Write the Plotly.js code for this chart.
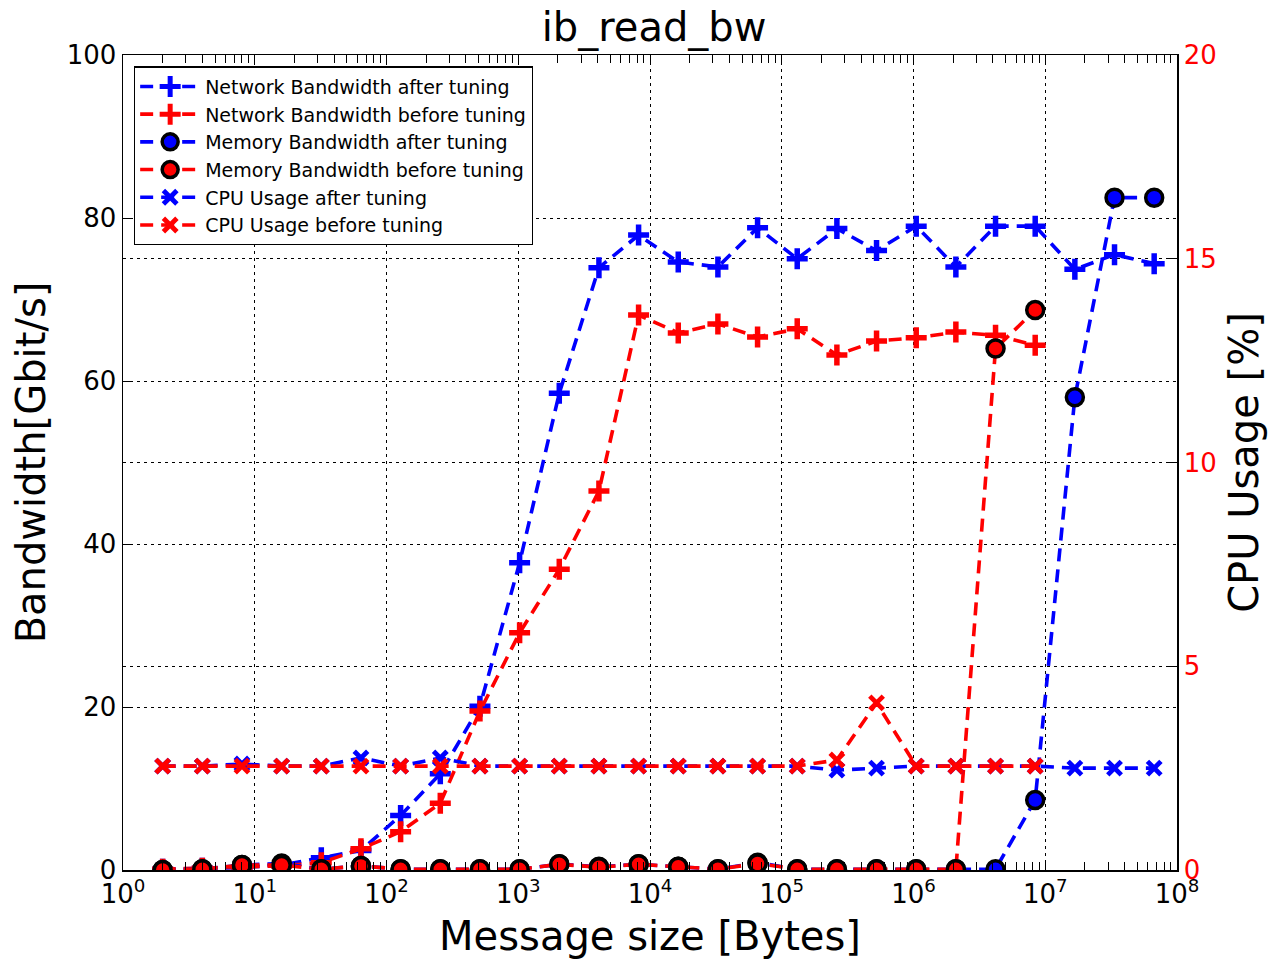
<!DOCTYPE html>
<html>
<head>
<meta charset="utf-8">
<script src="https://cdn.plot.ly/plotly-3.0.1.min.js"></script>
<style>html,body{margin:0;padding:0;background:#fff;}#chart{width:1270px;height:962px;}</style>
</head>
<body>
<div id="chart"></div>
<script>
// Message sizes in bytes (2^1 .. 2^26)
const sizesAll = [2, 4, 8, 16, 32, 64, 128, 256, 512, 1024, 2048, 4096, 8192, 16384, 32768,
  65536, 131072, 262144, 524288, 1048576, 2097152, 4194304, 8388608, 16777216, 33554432, 67108864];
const sizesBefore = [2, 4, 8, 16, 32, 64, 128, 256, 512, 1024, 2048, 4096, 8192, 16384, 32768,
  65536, 131072, 262144, 524288, 1048576, 2097152, 4194304, 8388608];

const netAfter = [0.1, 0.2, 0.3, 0.6, 1.5, 2.4, 6.7, 11.8, 20.1, 37.7, 58.5, 73.9, 77.9, 74.6, 74.0,
  78.8, 75.0, 78.7, 76.0, 79.0, 74.0, 79.0, 79.0, 73.7, 75.5, 74.4];
const netBefore = [0.1, 0.2, 0.3, 0.5, 0.9, 2.6, 4.7, 8.2, 19.5, 29.1, 36.9, 46.5, 68.1, 65.9, 67.0,
  65.4, 66.4, 63.2, 64.9, 65.3, 66.0, 65.6, 64.4];
const memAfter = [0.0, 0.1, 0.6, 0.8, 0.1, 0.5, 0.1, 0.1, 0.1, 0.1, 0.7, 0.4, 0.7, 0.4, 0.1,
  0.9, 0.1, 0.1, 0.1, 0.1, 0.1, 0.1, 8.6, 58.0, 82.5, 82.5];
const memBefore = [0.0, 0.1, 0.6, 0.6, 0.1, 0.5, 0.1, 0.1, 0.1, 0.1, 0.7, 0.35, 0.7, 0.4, 0.1,
  0.8, 0.1, 0.1, 0.1, 0.1, 0.1, 64.0, 68.7];
const cpuAfter = [2.55, 2.55, 2.6, 2.55, 2.55, 2.75, 2.55, 2.75, 2.55, 2.55, 2.55, 2.55, 2.55, 2.55, 2.55,
  2.55, 2.55, 2.45, 2.5, 2.55, 2.55, 2.55, 2.55, 2.5, 2.5, 2.5];
const cpuBefore = [2.55, 2.55, 2.55, 2.55, 2.55, 2.55, 2.55, 2.55, 2.55, 2.55, 2.55, 2.55, 2.55, 2.55, 2.55,
  2.55, 2.55, 2.7, 4.1, 2.55, 2.55, 2.55, 2.55];

const seriesNames = [
  'Network Bandwidth after tuning',
  'Network Bandwidth before tuning',
  'Memory Bandwidth after tuning',
  'Memory Bandwidth before tuning',
  'CPU Usage after tuning',
  'CPU Usage before tuning'
];

const xTickVals = [1, 10, 100, 1000, 10000, 100000, 1000000, 10000000, 100000000];
const xTickText = ['10<sup>0</sup>', '10<sup>1</sup>', '10<sup>2</sup>', '10<sup>3</sup>', '10<sup>4</sup>',
  '10<sup>5</sup>', '10<sup>6</sup>', '10<sup>7</sup>', '10<sup>8</sup>'];

const BLUE = '#0000ff', RED = '#ff0000';
const FONT = 'DejaVu Sans, sans-serif';
const dashStyle = '13px,8px';

function lineTrace(x, y, name, color, kind, axis, idx) {
  let marker;
  if (kind === 'plus') {
    marker = {symbol: 'cross-thin', size: 15, color: color, line: {color: color, width: 5.5}};
  } else if (kind === 'x') {
    marker = {symbol: 'x-thin', size: 13.5, color: color, line: {color: color, width: 4.8}};
  } else {
    marker = {symbol: 'circle', size: 17, color: color, line: {color: '#000', width: 3.5}};
  }
  return {
    x: x, y: y, name: name, type: 'scatter', mode: 'lines+markers',
    yaxis: axis, legendgroup: 'g' + idx,
    line: {color: color, width: 3.6, dash: dashStyle},
    marker: marker
  };
}

const traces = [
  lineTrace(sizesAll, netAfter, seriesNames[0], BLUE, 'plus', 'y', 0),
  lineTrace(sizesBefore, netBefore, seriesNames[1], RED, 'plus', 'y', 1),
  lineTrace(sizesAll, memAfter, seriesNames[2], BLUE, 'circle', 'y', 2),
  lineTrace(sizesBefore, memBefore, seriesNames[3], RED, 'circle', 'y', 3),
  lineTrace(sizesAll, cpuAfter, seriesNames[4], BLUE, 'x', 'y2', 4),
  lineTrace(sizesBefore, cpuBefore, seriesNames[5], RED, 'x', 'y2', 5)
];

const minorVals = [];
for (let d = 0; d < 8; d++) {
  for (let k = 2; k <= 9; k++) minorVals.push(k * Math.pow(10, d));
}

const gridDash = '3px,4px';

const layout = {
  width: 1270, height: 962,
  paper_bgcolor: '#fff', plot_bgcolor: '#fff',
  margin: {l: 123, r: 93, t: 55, b: 92, pad: 0},
  font: {family: FONT, color: '#000', size: 26},
  title: {text: 'ib_read_bw', font: {family: FONT, size: 40, color: '#000'},
    x: 0.515, xanchor: 'center', yref: 'container', y: 0.972, yanchor: 'middle'},
  showlegend: true,
  legend: {
    x: 0.0104, y: 0.986, xanchor: 'left', yanchor: 'top',
    bgcolor: '#fff', bordercolor: '#000', borderwidth: 1.2,
    font: {family: FONT, size: 19, color: '#000'},
    traceorder: 'grouped', tracegroupgap: 0, itemwidth: 60
  },
  xaxis: {
    type: 'log', range: [0, 8],
    tickvals: xTickVals, ticktext: xTickText,
    ticks: 'inside', ticklen: 8, tickwidth: 1, tickcolor: '#000',
    showline: true, linecolor: '#000', linewidth: 1.5, mirror: 'allticks',
    showgrid: true, gridcolor: '#000', gridwidth: 1, griddash: gridDash,
    zeroline: false,
    minor: {tickvals: minorVals, ticks: 'inside', ticklen: 4, tickcolor: '#000', showgrid: false},
    tickfont: {family: FONT, size: 26, color: '#000'},
    title: {text: 'Message size [Bytes]', font: {family: FONT, size: 40, color: '#000'}, standoff: 14}
  },
  yaxis: {
    range: [0, 100], tickvals: [0, 20, 40, 60, 80, 100],
    ticks: 'inside', ticklen: 8, tickwidth: 1, tickcolor: '#000',
    showline: true, linecolor: '#000', linewidth: 1.5,
    showgrid: true, gridcolor: '#000', gridwidth: 1, griddash: gridDash,
    zeroline: false,
    tickfont: {family: FONT, size: 26, color: '#000'},
    title: {text: 'Bandwidth[Gbit/s]', font: {family: FONT, size: 40, color: '#000'}, standoff: 8}
  },
  yaxis2: {
    overlaying: 'y', side: 'right', range: [0, 20], tickvals: [0, 5, 10, 15, 20],
    ticks: 'inside', ticklen: 8, tickwidth: 1, tickcolor: '#000',
    showline: true, linecolor: '#000', linewidth: 1.5,
    showgrid: true, gridcolor: '#000', gridwidth: 1, griddash: gridDash,
    zeroline: false,
    tickfont: {family: FONT, size: 26, color: RED},
    title: {text: 'CPU Usage [%]', font: {family: FONT, size: 40, color: '#000'}, standoff: 14}
  }
};

Plotly.newPlot('chart', traces, layout, {displayModeBar: false, staticPlot: true});
</script>
</body>
</html>
